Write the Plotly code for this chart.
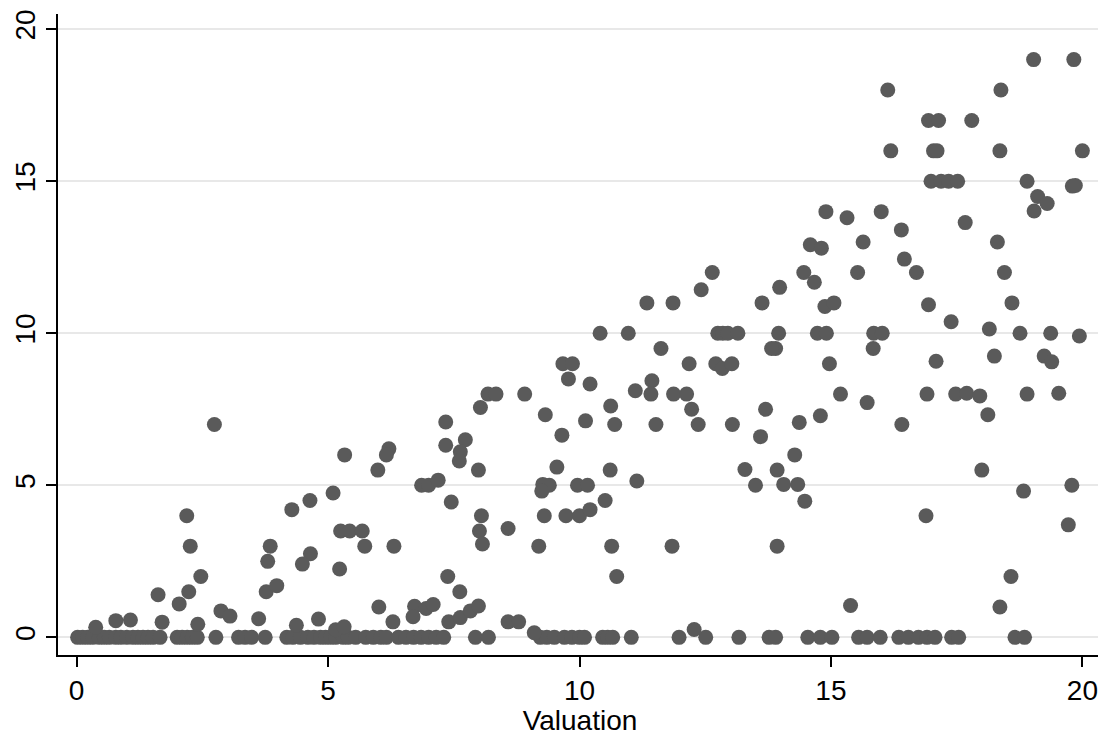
import plotly.graph_objects as go

# Points with positive bids (valuation, bid)
val_pos = [2.19, 2.26, 2.47, 2.23, 2.04, 1.62, 1.70, 0.78, 1.07, 0.38, 2.41, 2.87, 3.05, 3.62, 3.85, 3.80, 3.77, 3.98,
           4.28, 4.64, 4.65, 4.49, 4.37, 4.81, 2.74, 5.15, 5.32,
           5.33, 6.21, 6.16, 5.99, 7.34, 7.73, 7.63, 7.61, 7.99, 5.10, 6.86, 7.00, 7.19, 7.45, 5.25, 5.43, 5.68, 5.73,
           6.31, 5.23, 8.05, 8.01, 8.07, 8.58, 9.27, 9.40, 9.25, 9.55, 9.30, 9.73, 10.0, 9.96, 9.19, 7.38, 7.62, 6.01,
           6.29, 6.72, 6.69, 6.95, 7.09, 7.40, 7.63, 7.83, 7.99, 8.58, 8.79, 9.10,
           7.34, 8.03, 8.18, 8.34, 8.91, 9.32, 9.65, 9.67, 9.86, 9.78, 10.12, 10.21,
           14.59, 14.81, 12.64, 12.42, 14.46, 14.67, 13.98, 13.63, 14.88, 15.06, 11.34, 11.86, 10.41, 10.97, 12.75,
           12.85, 12.95, 13.15, 13.96, 13.90, 13.82, 14.73, 14.91, 11.62, 12.18, 12.71, 12.84, 13.03, 14.97, 11.11,
           11.44, 11.42, 11.87, 12.13, 15.19, 10.62, 12.23, 13.70, 10.70, 11.52, 12.36, 13.04, 13.60, 14.37, 14.79,
           10.16, 10.21, 10.61, 10.51, 11.14, 10.64, 10.74, 11.84, 13.29, 13.93, 14.28, 13.50, 14.06, 14.34, 14.48,
           13.93, 12.28,
           18.00, 18.83, 19.79, 16.89, 19.72, 18.58, 18.36, 15.39,
           15.64, 16.40, 18.31, 15.53, 16.46, 16.70, 18.45, 16.94, 18.60, 17.39, 15.85, 16.02, 15.84, 18.15, 18.76,
           19.37, 19.94, 17.09, 18.25, 19.24, 19.39, 15.72, 16.41, 16.91, 17.48, 17.70, 17.96, 18.12, 18.90, 19.53,
           19.03, 19.83, 16.13, 18.38, 16.94, 17.14, 17.80, 16.19, 17.04, 17.11, 18.36, 20.00, 16.99, 17.19, 17.34,
           17.52, 18.90, 19.80, 19.86, 19.11, 19.30, 19.04, 15.32, 16.00, 17.67, 14.90]
bid_pos = [4.0, 3.0, 2.0, 1.5, 1.1, 1.4, 0.5, 0.55, 0.57, 0.33, 0.43, 0.87, 0.70, 0.61, 3.0, 2.5, 1.5, 1.7,
           4.2, 4.5, 2.75, 2.41, 0.40, 0.60, 7.0, 0.25, 0.35,
           6.0, 6.2, 6.0, 5.5, 6.32, 6.5, 6.1, 5.8, 5.5, 4.75, 5.0, 5.0, 5.17, 4.45, 3.5, 3.5, 3.5, 3.0,
           3.0, 2.25, 4.0, 3.5, 3.07, 3.58, 5.03, 5.0, 4.81, 5.6, 4.0, 4.0, 4.0, 5.0, 3.0, 2.0, 1.5, 1.0,
           0.51, 1.02, 0.68, 0.95, 1.08, 0.51, 0.65, 0.87, 1.03, 0.51, 0.51, 0.15,
           7.08, 7.56, 8.0, 8.0, 8.0, 7.32, 6.65, 9.0, 9.0, 8.5, 7.12, 8.33,
           12.91, 12.8, 12.0, 11.43, 12.0, 11.68, 11.51, 11.0, 10.88, 11.0, 11.0, 11.0, 10.0, 10.0, 10.0,
           10.0, 10.0, 10.0, 10.0, 9.5, 9.5, 10.0, 10.0, 9.5, 9.0, 9.0, 8.84, 9.0, 9.0, 8.11,
           8.44, 8.0, 8.0, 8.0, 8.0, 7.61, 7.5, 7.5, 7.0, 7.0, 7.0, 7.0, 6.6, 7.07, 7.29,
           5.0, 4.2, 5.5, 4.5, 5.14, 3.0, 2.0, 3.0, 5.52, 5.5, 6.0, 5.0, 5.03, 5.03, 4.48,
           3.0, 0.26,
           5.5, 4.81, 5.0, 4.0, 3.7, 2.0, 1.0, 1.05,
           13.0, 13.4, 13.0, 12.0, 12.44, 12.0, 12.0, 10.94, 11.0, 10.38, 10.0, 10.0, 9.5, 10.14, 10.0,
           10.0, 9.91, 9.08, 9.25, 9.25, 9.06, 7.72, 7.0, 8.0, 8.0, 8.03, 7.94, 7.32, 8.0, 8.03,
           19.0, 19.0, 18.0, 18.0, 17.0, 17.0, 17.0, 16.0, 16.0, 16.0, 16.0, 16.0, 15.0, 15.0, 15.0,
           15.0, 15.0, 14.84, 14.86, 14.5, 14.27, 14.02, 13.8, 14.0, 13.64, 14.0]

# Points with zero bids (valuation only)
val_zero = [0.02, 0.12, 0.22, 0.32, 0.45, 0.55, 0.65, 0.78, 0.88, 1.00, 1.12, 1.22, 1.32, 1.42, 1.52, 1.66,
            2.00, 2.10, 2.20, 2.30, 2.40, 2.77, 3.22, 3.35, 3.48, 3.75,
            4.18, 4.30, 4.45, 4.60, 4.72, 4.85, 4.95, 5.05, 5.15, 5.30, 5.40, 5.55, 5.75, 5.90, 6.05, 6.16,
            6.40, 6.55, 6.70, 6.85, 7.00, 7.15, 7.30, 7.93, 8.19,
            9.22, 9.35, 9.50, 9.70, 9.85, 10.00, 10.10, 10.46, 10.56, 10.66, 11.03, 11.98, 12.51, 13.17, 13.77,
            13.90, 14.54, 14.79, 15.02, 15.55, 15.72, 15.98, 16.35, 16.54, 16.74, 16.91, 17.07, 17.40, 17.54,
            18.66, 18.85]
bid_zero = [0.0] * len(val_zero)

x_ticks = [0, 5, 10, 15, 20]
y_ticks = [0, 5, 10, 15, 20]

fig = go.Figure()
fig.add_trace(go.Scatter(
    x=val_zero + val_pos, y=bid_zero + bid_pos, mode="markers",
    marker=dict(size=15, color="#5a5a5a", line=dict(width=0)),
    showlegend=False, hoverinfo="skip"))

fig.update_layout(
    width=1098, height=728, autosize=False,
    margin=dict(l=48, r=4, t=2, b=81),
    paper_bgcolor="white", plot_bgcolor="white",
    font=dict(family="Liberation Sans, Arial, sans-serif", size=28, color="black"),
)
fig.update_xaxes(
    range=[-0.37, 20.39], tickvals=x_ticks, ticktext=[str(v) for v in x_ticks],
    showgrid=False, zeroline=False, showline=True, linecolor="black", linewidth=1.5,
    ticks="outside", ticklen=10, tickwidth=1.5, tickcolor="black", ticklabeloverflow="allow",
    title=dict(text="Valuation", standoff=0, font=dict(size=28)),
)
fig.update_yaxes(
    range=[-0.58, 20.5], tickvals=y_ticks, ticktext=[str(v) for v in y_ticks],
    showgrid=True, gridcolor="#e8e8e8", gridwidth=2, zeroline=False,
    showline=True, linecolor="black", linewidth=1.5,
    ticks="outside", ticklen=10, tickwidth=1.5, tickcolor="black", tickangle=-90,
    ticklabeloverflow="allow",
)

fig.write_html("out.html")
